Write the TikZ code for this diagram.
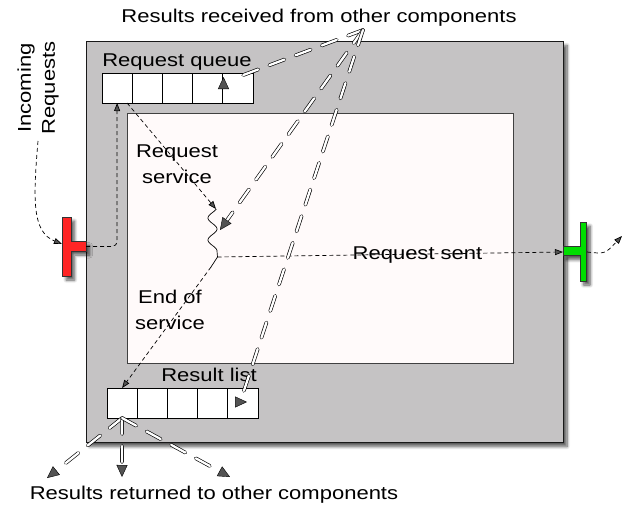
\documentclass[tikz,border=0pt]{standalone}
\usepackage{fontspec}
\setmainfont[FakeStretch=1.19]{Liberation Sans}
\usetikzlibrary{arrows.meta,shadows.blur,calc}

\definecolor{panelgray}{HTML}{C5C3C4}
\definecolor{corefill}{HTML}{FFFAFA}
\definecolor{tred}{HTML}{FF2525}
\definecolor{tgreen}{HTML}{00DD00}

\tikzset{
  lbl/.style={font=\fontsize{18.5}{26}\selectfont, inner sep=0pt, align=center},
  cell/.style={draw=black, fill=white, line width=0.8pt, minimum width=30.2pt,
    minimum height=30pt, inner sep=0pt, outer sep=0pt, anchor=north west},
  flow/.style={dash pattern=on 4pt off 3pt, line width=0.7pt,
    -{Triangle[length=8pt,width=6pt]}},
  ext/.style={draw=black, double=white, line width=0.65pt, double distance=2.3pt,
    dash pattern=on 16pt off 12pt, line cap=round},
  ahead/.style={-{Triangle[length=12pt,width=11pt]}, line width=0.4pt},
  soft/.style={blur shadow={shadow xshift=3.5pt, shadow yshift=-4pt,
    shadow blur steps=8, shadow blur radius=3pt, shadow opacity=65}},
  port/.style={draw=black!80, line width=0.8pt, soft},
}

\begin{document}
\begin{tikzpicture}[x=1pt, y=-1pt]
\useasboundingbox (0,0) rectangle (629,506);

% component frame and its core
\node[draw=black!90, fill=panelgray, line width=1pt, soft, anchor=north west,
  minimum width=477pt, minimum height=401pt, inner sep=0pt] (comp) at (86,41) {};
\node[draw=black!75, fill=corefill, line width=0.8pt, anchor=north west,
  minimum width=386pt, minimum height=250pt, inner sep=0pt] (core) at (127,113) {};

% input and output ports
\draw[port, fill=tred] (62.7,217) -- (71,217) -- (71,241.7) -- (86,241.7)
  -- (86,251) -- (71,251) -- (71,276) -- (62.7,276) -- cycle;
\draw[port, fill=tgreen] (563,246.7) -- (580,246.7) -- (580,222) -- (586.7,222)
  -- (586.7,281) -- (580,281) -- (580,255.7) -- (563,255.7) -- cycle;

% request queue and result list
\foreach \i in {1,...,5} {
  \node[cell] (q\i) at ({102+30.2*(\i-1)},73) {};
  \node[cell] (r\i) at ({107+30.2*(\i-1)},388) {};
}

% connection points
\coordinate (src) at (363,30);
\coordinate (inlbl) at (38,141);
\coordinate (inbar) at (62,244);
\coordinate (inport) at (86,246.5);
\coordinate (outport) at (563,252);
\coordinate (outbar) at (587,252);
\coordinate (outfree) at (622,236);
\coordinate (wtop) at (216,209);
\coordinate (junction) at (217.5,257);
\coordinate (wend) at (211,267);
\coordinate (qend) at (238,77);
\coordinate (qtip) at (223.5,77);
\coordinate (wtip) at (220,230);
\coordinate (rend) at (243.5,392);
\coordinate (rtip) at (247,402);
\coordinate (retL) at (47,478);
\coordinate (retD) at (122,477);
\coordinate (retR) at (230,477);

% labels
\node[lbl, anchor=base] at (319,22.5) {Results received from other components};
\node[lbl, anchor=base] at (214,499) {Results returned to other components};
\node[lbl, anchor=base] at (177,66) {Request queue};
\node[lbl, anchor=base] at (209,381) {Result list};
\node[lbl] at (177,164) {Request\\service};
\node[lbl] at (170,310) {End of\\service};
\node[lbl, anchor=base] at (417.5,259) {Request sent};
\node[lbl, rotate=90, font=\fontsize{18.5}{24}\selectfont] at (38,88) {Incoming\\Requests};

% request flow
\draw[flow] (inlbl) .. controls (33,200) and (32,232) .. (inbar);
\draw[flow] (inport) -- (106,246.5) .. controls (117,246.5) .. (117,234) -- (q1.south);
\draw[flow] ($(q1.south)+(10,0)$) -- (wtop);
\draw[line width=0.7pt] plot[domain=209:251, samples=70, variable=\t]
  ({212.5+4.5*cos(360*(\t-207)/22)}, \t) -- (junction) -- (wend);
\draw[flow] (junction) -- (outport);
\draw[flow] (wend) -- (r1.north);
\draw[flow] (outbar) .. controls (605,254) .. (outfree);

% results from other components
\draw[ext] (src) -- (qend);
\draw[ahead] ($(qtip)+(0,10)$) -- (qtip);
\draw[ext] (src) -- ($(wtip)!12pt!(src)$);
\draw[ahead] ($(wtip)!12pt!(src)$) -- (wtip);
\draw[ext] (src) -- (rend);
\draw[ahead] ($(rtip)+(-10,0)$) -- (rtip);

% results to other components
\foreach \t in {retL,retD,retR} {
  \draw[ext] (r1.south) -- ($(\t)!13pt!(r1.south)$);
  \draw[ahead] ($(\t)!12pt!(r1.south)$) -- (\t);
}
\end{tikzpicture}
\end{document}
